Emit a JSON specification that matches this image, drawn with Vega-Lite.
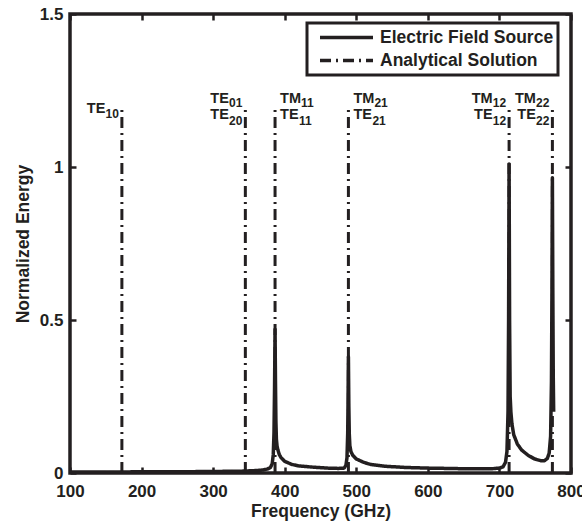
{
  "$schema": "https://vega.github.io/schema/vega-lite/v6.json",
  "autosize": "none",
  "width": 501,
  "height": 459,
  "padding": {"left": 70, "top": 14, "right": 11, "bottom": 52},
  "background": "white",
  "config": {
    "view": {"stroke": "#231f20", "strokeWidth": 3.5},
    "font": "Liberation Sans",
    "axis": {
      "domain": false, "grid": false, "labelFlush": false, "labelOverlap": false,
      "tickSize": -6, "tickWidth": 2.5, "tickColor": "#231f20",
      "labelFont": "Liberation Sans", "labelFontWeight": "bold", "labelFontSize": 17, "labelColor": "#231f20",
      "titleFont": "Liberation Sans", "titleFontWeight": "bold", "titleFontSize": 17.5, "titleColor": "#231f20"
    },
    "text": {"font": "Liberation Sans", "fontWeight": "bold", "color": "#231f20", "baseline": "alphabetic"}
  },
  "datasets": {
    "curve": [
      {"f": 100, "e": 0.003}, {"f": 150, "e": 0.003}, {"f": 200, "e": 0.004}, {"f": 250, "e": 0.004},
      {"f": 300, "e": 0.005}, {"f": 340, "e": 0.006}, {"f": 360, "e": 0.008}, {"f": 370, "e": 0.01},
      {"f": 376, "e": 0.013}, {"f": 380, "e": 0.018}, {"f": 382.5, "e": 0.03}, {"f": 384, "e": 0.06},
      {"f": 385, "e": 0.13}, {"f": 385.8, "e": 0.28}, {"f": 386.5, "e": 0.47}, {"f": 387.1, "e": 0.3},
      {"f": 387.7, "e": 0.17}, {"f": 388.4, "e": 0.11}, {"f": 389.3, "e": 0.088}, {"f": 390.5, "e": 0.075},
      {"f": 392.5, "e": 0.06}, {"f": 395, "e": 0.05}, {"f": 400, "e": 0.038}, {"f": 410, "e": 0.028},
      {"f": 420, "e": 0.023}, {"f": 440, "e": 0.019}, {"f": 460, "e": 0.016}, {"f": 475, "e": 0.015},
      {"f": 483, "e": 0.016}, {"f": 485.5, "e": 0.025}, {"f": 487, "e": 0.05}, {"f": 488, "e": 0.13},
      {"f": 488.5, "e": 0.24}, {"f": 489, "e": 0.38}, {"f": 489.6, "e": 0.22}, {"f": 490.2, "e": 0.13},
      {"f": 491, "e": 0.09}, {"f": 492.5, "e": 0.07}, {"f": 495, "e": 0.058}, {"f": 500, "e": 0.046},
      {"f": 510, "e": 0.035}, {"f": 520, "e": 0.028}, {"f": 540, "e": 0.022}, {"f": 570, "e": 0.018},
      {"f": 600, "e": 0.016}, {"f": 650, "e": 0.014}, {"f": 690, "e": 0.014}, {"f": 700, "e": 0.016},
      {"f": 705, "e": 0.02}, {"f": 708.5, "e": 0.035}, {"f": 710.5, "e": 0.07}, {"f": 712, "e": 0.2},
      {"f": 712.8, "e": 0.5}, {"f": 713.5, "e": 1.01}, {"f": 714.2, "e": 0.5}, {"f": 715, "e": 0.25},
      {"f": 716, "e": 0.2}, {"f": 717.5, "e": 0.16}, {"f": 720, "e": 0.125}, {"f": 725, "e": 0.095},
      {"f": 731, "e": 0.075}, {"f": 740, "e": 0.058}, {"f": 749, "e": 0.046}, {"f": 758, "e": 0.04},
      {"f": 763, "e": 0.04}, {"f": 767, "e": 0.048}, {"f": 769.5, "e": 0.065}, {"f": 771.5, "e": 0.12},
      {"f": 772.7, "e": 0.3}, {"f": 773.4, "e": 0.6}, {"f": 774, "e": 0.965}, {"f": 774.6, "e": 0.6},
      {"f": 775.2, "e": 0.32}, {"f": 775.8, "e": 0.2}
    ],
    "modes": [
      {"f": 172.5, "side": "right", "lowerMain": "TE", "lowerSub": "10"},
      {"f": 345, "side": "right", "upperMain": "TE", "upperSub": "01", "lowerMain": "TE", "lowerSub": "20"},
      {"f": 386.5, "side": "left", "upperMain": "TM", "upperSub": "11", "lowerMain": "TE", "lowerSub": "11"},
      {"f": 489, "side": "left", "upperMain": "TM", "upperSub": "21", "lowerMain": "TE", "lowerSub": "21"},
      {"f": 713.5, "side": "right", "upperMain": "TM", "upperSub": "12", "lowerMain": "TE", "lowerSub": "12"},
      {"f": 774, "side": "right", "upperMain": "TM", "upperSub": "22", "lowerMain": "TE", "lowerSub": "22"}
    ]
  },
  "resolve": {"axis": {"x": "independent", "y": "independent"}},
  "layer": [
    {
      "data": {"name": "modes"},
      "mark": {"type": "rule", "strokeWidth": 3, "color": "#231f20"},
      "encoding": {
        "x": {"field": "f", "type": "quantitative", "scale": {"domain": [100, 800], "nice": false, "zero": false},
              "axis": {"orient": "top", "labels": false, "title": null, "values": [100,200,300,400,500,600,700,800]}},
        "y": {"datum": 0, "type": "quantitative", "scale": {"domain": [0, 1.5], "nice": false},
              "axis": {"orient": "right", "labels": false, "title": null, "values": [0, 0.5, 1, 1.5]}},
        "y2": {"datum": 1.2},
        "strokeDash": {
          "datum": "Analytical Solution",
          "scale": {"domain": ["Electric Field Source", "Analytical Solution"], "range": [[1, 0], [11, 5, 2, 5]]},
          "legend": {
            "title": null, "orient": "none", "legendX": 237, "legendY": 9,
            "symbolType": "stroke", "symbolSize": 2809, "symbolStrokeWidth": 3.5, "symbolStrokeColor": "#231f20",
            "symbolOffset": 7, "clipHeight": 21, "rowPadding": 2, "padding": 4, "labelOffset": 5,
            "labelFont": "Liberation Sans", "labelFontWeight": "bold", "labelFontSize": 17.5, "labelColor": "#231f20",
            "labelLimit": 400,
            "fillColor": "white", "strokeColor": "#231f20",
            "encode": {"legend": {"update": {"strokeWidth": {"value": 3}}}}
          }
        }
      }
    },
    {
      "data": {"name": "curve"},
      "mark": {"type": "line", "strokeWidth": 3.5, "color": "#231f20", "strokeJoin": "round"},
      "encoding": {
        "x": {"field": "f", "type": "quantitative", "scale": {"domain": [100, 800], "nice": false, "zero": false},
              "axis": {"orient": "bottom", "title": "Frequency (GHz)", "values": [100,200,300,400,500,600,700,800], "labelPadding": 16, "titlePadding": 3}},
        "y": {"field": "e", "type": "quantitative", "scale": {"domain": [0, 1.5], "nice": false},
              "axis": {"orient": "left", "title": "Normalized Energy", "values": [0, 0.5, 1, 1.5], "format": "~g", "labelPadding": 13, "titlePadding": 7}},
        "strokeDash": {"datum": "Electric Field Source"}
      }
    },
    {
      "data": {"name": "modes"},
      "transform": [{"filter": "datum.side === 'right' && datum.upperMain"}],
      "mark": {"type": "text", "align": "right", "dx": -16.5, "fontSize": 14.5},
      "encoding": {"x": {"field": "f", "type": "quantitative", "axis": null}, "y": {"datum": 1.209, "axis": null}, "text": {"field": "upperMain"}}
    },
    {
      "data": {"name": "modes"},
      "transform": [{"filter": "datum.side === 'right' && datum.upperSub"}],
      "mark": {"type": "text", "align": "right", "dx": -3, "dy": 4, "fontSize": 12},
      "encoding": {"x": {"field": "f", "type": "quantitative", "axis": null}, "y": {"datum": 1.209, "axis": null}, "text": {"field": "upperSub"}}
    },
    {
      "data": {"name": "modes"},
      "transform": [{"filter": "datum.side === 'right' && datum.upperMain"}],
      "mark": {"type": "text", "align": "right", "dx": -16.5, "fontSize": 14.5},
      "encoding": {"x": {"field": "f", "type": "quantitative", "axis": null}, "y": {"datum": 1.157, "axis": null}, "text": {"field": "lowerMain"}}
    },
    {
      "data": {"name": "modes"},
      "transform": [{"filter": "datum.side === 'right' && datum.upperMain"}],
      "mark": {"type": "text", "align": "right", "dx": -3, "dy": 6, "fontSize": 12},
      "encoding": {"x": {"field": "f", "type": "quantitative", "axis": null}, "y": {"datum": 1.157, "axis": null}, "text": {"field": "lowerSub"}}
    },
    {
      "data": {"name": "modes"},
      "transform": [{"filter": "!datum.upperMain"}],
      "mark": {"type": "text", "align": "right", "dx": -16.5, "fontSize": 14.5},
      "encoding": {"x": {"field": "f", "type": "quantitative", "axis": null}, "y": {"datum": 1.176, "axis": null}, "text": {"field": "lowerMain"}}
    },
    {
      "data": {"name": "modes"},
      "transform": [{"filter": "!datum.upperMain"}],
      "mark": {"type": "text", "align": "right", "dx": -3, "dy": 5, "fontSize": 12},
      "encoding": {"x": {"field": "f", "type": "quantitative", "axis": null}, "y": {"datum": 1.176, "axis": null}, "text": {"field": "lowerSub"}}
    },
    {
      "data": {"name": "modes"},
      "transform": [{"filter": "datum.side === 'left'"}],
      "mark": {"type": "text", "align": "left", "dx": 5, "fontSize": 14.5},
      "encoding": {"x": {"field": "f", "type": "quantitative", "axis": null}, "y": {"datum": 1.209, "axis": null}, "text": {"field": "upperMain"}}
    },
    {
      "data": {"name": "modes"},
      "transform": [{"filter": "datum.side === 'left'"}],
      "mark": {"type": "text", "align": "left", "dx": 26, "dy": 4, "fontSize": 12},
      "encoding": {"x": {"field": "f", "type": "quantitative", "axis": null}, "y": {"datum": 1.209, "axis": null}, "text": {"field": "upperSub"}}
    },
    {
      "data": {"name": "modes"},
      "transform": [{"filter": "datum.side === 'left'"}],
      "mark": {"type": "text", "align": "left", "dx": 5, "fontSize": 14.5},
      "encoding": {"x": {"field": "f", "type": "quantitative", "axis": null}, "y": {"datum": 1.157, "axis": null}, "text": {"field": "lowerMain"}}
    },
    {
      "data": {"name": "modes"},
      "transform": [{"filter": "datum.side === 'left'"}],
      "mark": {"type": "text", "align": "left", "dx": 24, "dy": 6, "fontSize": 12},
      "encoding": {"x": {"field": "f", "type": "quantitative", "axis": null}, "y": {"datum": 1.157, "axis": null}, "text": {"field": "lowerSub"}}
    }
  ]
}
